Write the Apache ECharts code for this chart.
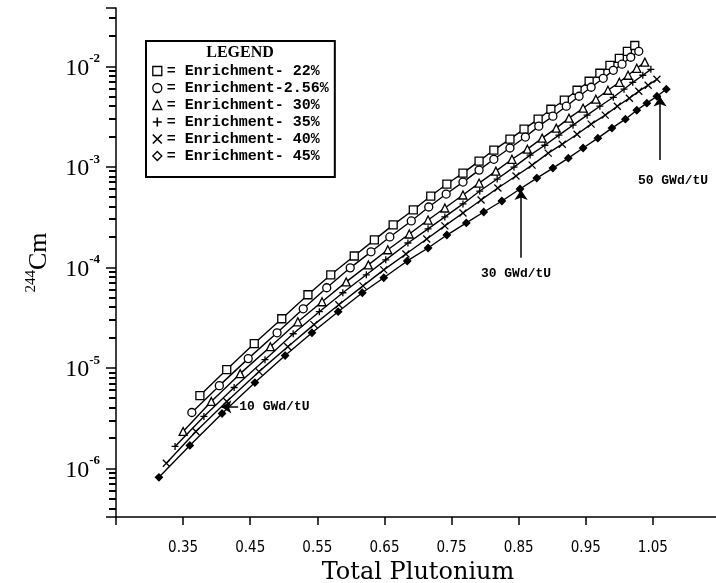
<!DOCTYPE html>
<html><head><meta charset="utf-8">
<script src="https://cdn.jsdelivr.net/npm/echarts@6/dist/echarts.min.js"></script>
<style>html,body{margin:0;padding:0;background:#fff}#c{width:716px;height:583px}</style>
</head><body><div id="c"></div>
<script>
// ---- data (Total Plutonium vs 244Cm) ----
const seriesNames = ['Enrichment- 22%','Enrichment-2.56%','Enrichment- 30%','Enrichment- 35%','Enrichment- 40%','Enrichment- 45%'];

const pu22 = [0.375,0.415,0.456,0.497,0.536,0.570,0.605,0.635,0.663,0.693,0.719,0.743,0.767,0.791,0.813,0.837,0.858,0.879,0.898,0.918,0.937,0.955,0.971,0.986,1.000,1.012,1.023];
const cm22 = [5.32e-6,9.64e-6,1.75e-5,3.09e-5,5.35e-5,8.45e-5,1.30e-4,1.88e-4,2.65e-4,3.73e-4,5.13e-4,6.75e-4,8.67e-4,1.14e-3,1.47e-3,1.89e-3,2.37e-3,2.98e-3,3.74e-3,4.60e-3,5.78e-3,7.10e-3,8.53e-3,1.02e-2,1.20e-2,1.41e-2,1.61e-2];

const pu256 = [0.363,0.404,0.447,0.490,0.529,0.564,0.599,0.630,0.658,0.690,0.716,0.742,0.767,0.791,0.813,0.837,0.860,0.880,0.901,0.921,0.940,0.958,0.976,0.991,1.004,1.017,1.029];
const cm256 = [3.61e-6,6.68e-6,1.24e-5,2.24e-5,3.88e-5,6.28e-5,9.91e-5,1.43e-4,2.01e-4,2.90e-4,3.99e-4,5.37e-4,7.06e-4,9.29e-4,1.19e-3,1.54e-3,1.98e-3,2.54e-3,3.19e-3,4.01e-3,5.04e-3,6.19e-3,7.60e-3,9.12e-3,1.05e-2,1.23e-2,1.41e-2];

const pu30 = [0.350,0.392,0.435,0.480,0.521,0.557,0.593,0.626,0.655,0.687,0.715,0.740,0.767,0.791,0.816,0.840,0.863,0.885,0.906,0.925,0.946,0.965,0.983,1.000,1.013,1.026,1.038];
const cm30 = [2.34e-6,4.65e-6,8.79e-6,1.63e-5,2.88e-5,4.56e-5,7.19e-5,1.06e-4,1.50e-4,2.15e-4,2.96e-4,3.90e-4,5.25e-4,6.90e-4,9.08e-4,1.19e-3,1.50e-3,1.93e-3,2.43e-3,3.05e-3,3.83e-3,4.71e-3,5.78e-3,6.93e-3,8.15e-3,9.55e-3,1.10e-2];

const pu35 = [0.338,0.381,0.426,0.472,0.514,0.553,0.588,0.623,0.652,0.685,0.715,0.740,0.767,0.792,0.818,0.843,0.867,0.889,0.910,0.931,0.952,0.971,0.991,1.007,1.020,1.035,1.047];
const cm35 = [1.66e-6,3.30e-6,6.40e-6,1.21e-5,2.19e-5,3.63e-5,5.60e-5,8.45e-5,1.19e-4,1.75e-4,2.42e-4,3.18e-4,4.28e-4,5.75e-4,7.57e-4,9.95e-4,1.31e-3,1.64e-3,2.07e-3,2.60e-3,3.27e-3,4.01e-3,4.92e-3,5.92e-3,6.93e-3,8.15e-3,9.33e-3];

const pu40 = [0.325,0.369,0.415,0.463,0.506,0.545,0.582,0.618,0.649,0.682,0.713,0.740,0.767,0.794,0.819,0.846,0.870,0.894,0.915,0.937,0.958,0.979,0.997,1.015,1.029,1.043,1.056];
const cm40 = [1.13e-6,2.34e-6,4.65e-6,9.20e-6,1.63e-5,2.70e-5,4.26e-5,6.56e-5,9.46e-5,1.36e-4,1.92e-4,2.59e-4,3.48e-4,4.69e-4,6.17e-4,8.11e-4,1.04e-3,1.37e-3,1.68e-3,2.11e-3,2.66e-3,3.27e-3,4.01e-3,4.82e-3,5.65e-3,6.49e-3,7.43e-3];

const pu45 = [0.314,0.360,0.408,0.457,0.502,0.542,0.581,0.617,0.649,0.684,0.715,0.743,0.772,0.798,0.825,0.852,0.877,0.901,0.924,0.946,0.968,0.989,1.009,1.026,1.041,1.056,1.070];
const cm45 = [8.18e-7,1.70e-6,3.53e-6,7.16e-6,1.33e-5,2.24e-5,3.63e-5,5.60e-5,7.89e-5,1.16e-4,1.56e-4,2.10e-4,2.77e-4,3.56e-4,4.58e-4,6.03e-4,7.74e-4,9.73e-4,1.22e-3,1.54e-3,1.93e-3,2.43e-3,2.98e-3,3.66e-3,4.30e-3,5.04e-3,5.92e-3];

const xTickLabels = ['0.35','0.45','0.55','0.65','0.75','0.85','0.95','1.05'];
const yDecadeExponents = [-6,-5,-4,-3,-2];
const yMinorTickFactors = [2,3,4,5,6,7,8,9];
const burnupLabels = ['10 GWd/tU','30 GWd/tU','50 GWd/tU'];

// ---- chart ----
const X_MIN = 0.25, X_MAX = 1.15, Y_MIN = 3.3e-7, Y_MAX = 0.038;
const GRID_LEFT = 116, GRID_TOP = 8, GRID_W = 604, GRID_H = 509;
const zip = (a, b) => a.map((v, i) => [v, b[i]]);
const allX = [pu22, pu256, pu30, pu35, pu40, pu45];
const allY = [cm22, cm256, cm30, cm35, cm40, cm45];
const symbols = ['rect','circle','triangle','path://M5 0L5 10M0 5L10 5','path://M0 0L10 10M10 0L0 10','diamond'];
const symSizes = [8, 8, 8, 7, 7, 7];
const fills = ['#fff','#fff','#fff','#000','#000','#000'];

const font = 'Liberation Mono';
const series = seriesNames.map((name, i) => ({
  name, type: 'line', data: zip(allX[i], allY[i]),
  symbol: symbols[i], symbolSize: symSizes[i], showSymbol: true, showAllSymbol: true,
  lineStyle: { color: '#000', width: 1.4 },
  itemStyle: { color: fills[i], borderColor: '#000', borderWidth: 1.3 },
  emphasis: { disabled: true }, z: 3 + i
}));

series[5].markLine = {
  silent: true, symbol: ['none', 'arrow'], symbolSize: 10,
  lineStyle: { color: '#000', width: 1.5, type: 'solid' },
  itemStyle: { color: '#000' },
  label: { show: false }, emphasis: { disabled: true },
  data: [
    [{ coord: [0.432, 4.1e-6] }, { coord: [0.407, 4.1e-6] }],
    [{ coord: [0.8536, 1.25e-4] }, { coord: [0.8536, 5.9e-4] }],
    [{ coord: [1.0607, 1.17e-3] }, { coord: [1.0607, 5.0e-3] }]
  ]
};
series[5].markPoint = {
  silent: true, symbol: 'circle', symbolSize: 0,
  itemStyle: { color: 'transparent' },
  label: { show: true, position: 'inside', color: '#000', fontFamily: font, fontWeight: 'bold', fontSize: 13, formatter: p => p.name },
  data: [
    { name: burnupLabels[0], coord: [0.486, 4.1e-6] },
    { name: burnupLabels[1], coord: [0.846, 8.7e-5] },
    { name: burnupLabels[2], coord: [1.08, 7.3e-4] }
  ]
};

// minor log ticks (2..9 in each decade inside the axis range), on the y axis's logarithmic mapping
const minorTickValues = [];
for (let e = -7; e <= -1; e++) {
  yMinorTickFactors.forEach(k => {
    const v = k * Math.pow(10, e);
    if (v > Y_MIN && v < Y_MAX) minorTickValues.push(v);
  });
}
const lmin = Math.log10(Y_MIN), lmax = Math.log10(Y_MAX);
const minorTickRects = minorTickValues.map((v, i) => {
  const yc = GRID_TOP + GRID_H * (lmax - Math.log10(v)) / (lmax - lmin);
  return {
    type: 'rect', id: 'mt' + i, z: 60, silent: true,
    x: GRID_LEFT - 7, y: Math.round(yc) - 1,
    shape: { x: 0, y: 0, width: 7, height: 2 },
    style: { fill: '#000', stroke: null, opacity: 1 }
  };
});

const legendIconStyles = [
  { color: '#fff', borderColor: '#000', borderWidth: 1.3 },
  { color: '#fff', borderColor: '#000', borderWidth: 1.3 },
  { color: '#fff', borderColor: '#000', borderWidth: 1.3 },
  { color: '#000', borderColor: '#000', borderWidth: 1.6 },
  { color: '#000', borderColor: '#000', borderWidth: 1.6 },
  { color: '#fff', borderColor: '#000', borderWidth: 1.3 }
];

const option = {
  animation: false,
  backgroundColor: '#fff',
  grid: { left: GRID_LEFT, top: GRID_TOP, width: GRID_W, height: GRID_H, outerBoundsMode: 'none' },
  xAxis: {
    type: 'value', min: X_MIN, max: X_MAX, interval: 0.1,
    axisLine: { show: true, lineStyle: { color: '#000', width: 1.5 } },
    axisTick: { show: true, length: 8, lineStyle: { color: '#000', width: 1.5 } },
    splitLine: { show: false },
    axisLabel: {
      color: '#000', fontFamily: '"Liberation Sans Narrow","DejaVu Sans Condensed",sans-serif', fontSize: 15, margin: 24,
      formatter: v => { const s = v.toFixed(2); return xTickLabels.includes(s) ? s : ''; }
    },
    name: 'Total Plutonium', nameLocation: 'middle', nameGap: 36,
    nameTextStyle: { color: '#000', fontFamily: '"DejaVu Serif",serif', fontSize: 24 }
  },
  yAxis: {
    type: 'log', logBase: 10, min: Y_MIN, max: Y_MAX,
    axisLine: { show: true, lineStyle: { color: '#000', width: 1.5 } },
    axisTick: { show: true, length: 10, lineStyle: { color: '#000', width: 1.5 } },
    splitLine: { show: false },
    axisLabel: {
      margin: 16,
      formatter: v => {
        const e = Math.log10(v), r = Math.round(e);
        if (Math.abs(e - r) > 1e-6 || !yDecadeExponents.includes(r)) return '';
        return '{b|10}{s|' + r + '}';
      },
      rich: {
        b: { fontFamily: '"Liberation Serif",serif', fontSize: 24, color: '#000', lineHeight: 28, verticalAlign: 'bottom' },
        s: { fontFamily: '"Liberation Serif",serif', fontSize: 13, fontWeight: 'bold', color: '#000', lineHeight: 13, verticalAlign: 'top' }
      }
    },
    name: '{s|244}{b|Cm}', nameLocation: 'middle', nameRotate: 90, nameGap: 64,
    nameTextStyle: {
      rich: {
        s: { fontFamily: '"Liberation Serif",serif', fontSize: 15, color: '#000', lineHeight: 14, verticalAlign: 'top' },
        b: { fontFamily: '"Liberation Serif",serif', fontSize: 26, color: '#000', lineHeight: 28, verticalAlign: 'bottom' }
      }
    }
  },
  legend: {
    orient: 'vertical', left: 146, top: 41, selectedMode: false,
    data: seriesNames.map((n, i) => ({ name: n, icon: symbols[i], itemStyle: legendIconStyles[i] })),
    itemWidth: 9, itemHeight: 9, itemGap: 1,
    padding: [22, 6, 13, 6],
    borderColor: '#000', borderWidth: 2,
    formatter: n => '= ' + n,
    textStyle: { fontFamily: font, fontWeight: 'bold', fontSize: 15, color: '#000', lineHeight: 16 }
  },
  graphic: {
    elements: [{
      type: 'text', id: 'legendTitle', x: 240, y: 53, z: 100, silent: true,
      style: { text: 'LEGEND', font: 'bold 16px "Liberation Serif"', fill: '#000', align: 'center', verticalAlign: 'middle', textAlign: 'center', textVerticalAlign: 'middle' }
    }].concat(minorTickRects)
  },
  series
};

const chart = echarts.init(document.getElementById('c'), null, { renderer: 'canvas' });
chart.setOption(option);
</script>
</body></html>
